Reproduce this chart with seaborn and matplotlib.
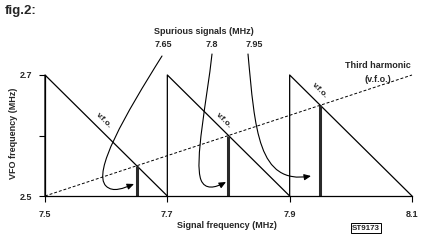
import numpy as np
import pandas as pd
import seaborn as sns
import matplotlib
matplotlib.use("Agg")
import matplotlib.pyplot as plt
from matplotlib.path import Path
from matplotlib.patches import FancyArrowPatch
import matplotlib.transforms as mtransforms

# ---- data ----
sweep_start = [7.5, 7.7, 7.9]          # signal freq where each v.f.o. sweep starts (MHz)
sweep_end = [7.7, 7.9, 8.1]            # signal freq where each sweep ends (MHz)
vfo_low, vfo_high = 2.5, 2.7           # VFO range (MHz)
harmonic_x = [7.5, 8.1]                # third harmonic line, signal freq
harmonic_y = [2.5, 2.7]                # third harmonic line, VFO freq
spurious_f = [7.65, 7.8, 7.95]         # spurious signals (MHz)
spurious_vfo = [2.55, 2.60, 2.65]      # VFO freq at spurious signal
spurious_labels = ["7.65", "7.8", "7.95"]
xticks = [7.5, 7.7, 7.9, 8.1]
xtick_labels = ["7.5", "7.7", "7.9", "8.1"]
yticks = [2.5, 2.6, 2.7]
ytick_labels = ["2.5", "", "2.7"]

sns.set_theme(style="white")
plt.rcParams["font.family"] = ["Liberation Sans", "DejaVu Sans"]

W, H = 429, 242
fig = plt.figure(figsize=(W / 100, H / 100), dpi=100)
fig.patch.set_facecolor("white")
ax = fig.add_axes([45 / W, 1 - 196 / H, (412 - 45) / W, (196 - 75) / H])
ax.set_facecolor("white")

# sawtooth v.f.o. sweeps
rows = []
for i, (s, e) in enumerate(zip(sweep_start, sweep_end)):
    rows += [(i, 0, s, vfo_low), (i, 1, s, vfo_high), (i, 2, e, vfo_low)]
saw = pd.DataFrame(rows, columns=["seg", "order", "x", "y"])
sns.lineplot(data=saw, x="x", y="y", units="seg", estimator=None, sort=False,
             color="black", lw=0.9, ax=ax, legend=False, clip_on=False)

# third harmonic
sns.lineplot(x=harmonic_x, y=harmonic_y, color="black", lw=0.7,
             linestyle=(0, (3, 2)), ax=ax, legend=False, clip_on=False)

# spurious spikes
ax.vlines(spurious_f, vfo_low, spurious_vfo, color="#2a2a2a", lw=2.2, clip_on=False)

ax.set_xlim(7.5, 8.1)
ax.set_ylim(2.5, 2.7)
ax.set_xticks(xticks)
ax.set_xticklabels(xtick_labels)
ax.set_yticks(yticks)
ax.set_yticklabels(ytick_labels)
for s in ["top", "right"]:
    ax.spines[s].set_visible(False)
for s in ["left", "bottom"]:
    ax.spines[s].set_color("black")
    ax.spines[s].set_linewidth(0.9)
ax.tick_params(axis="both", direction="out", length=4, width=0.8, color="black",
               labelsize=6.5, bottom=True, left=True)
ax.tick_params(axis="x", pad=6)
ax.tick_params(axis="y", pad=5)
for lab in ax.get_xticklabels() + ax.get_yticklabels():
    lab.set_fontweight("bold")
ax.set_xlabel("Signal frequency (MHz)", fontsize=6.5, fontweight="bold")
ax.set_ylabel("VFO frequency (MHz)", fontsize=6.5, fontweight="bold")
ax.xaxis.set_label_coords((227 - 45) / 367, -(225 - 196) / 121)
ax.yaxis.set_label_coords((14 - 45) / 367, (196 - 133) / 121)
ax.xaxis.label.set_va("center")
ax.yaxis.label.set_va("center")


def ptext(x, y, s, **kw):
    fig.text(x / W, 1 - y / H, s, **kw)


ptext(5, 11, "fig.2:", fontsize=9.5, fontweight="bold", ha="left", va="center")
ptext(204, 32, "Spurious signals (MHz)", fontsize=6.5, fontweight="bold", ha="center", va="center")
for xp, lab in zip([163, 212, 254], spurious_labels):
    ptext(xp, 45, lab, fontsize=6.5, fontweight="bold", ha="center", va="center")
ptext(378, 66, "Third harmonic", fontsize=6.5, fontweight="bold", ha="center", va="center")
ptext(378, 80, "(v.f.o.)", fontsize=6.5, fontweight="bold", ha="center", va="center")
for (xp, yp) in [(104, 121), (224, 121), (320, 91)]:
    ptext(xp, yp, "v.f.o.", fontsize=6, fontweight="bold", ha="center", va="center",
          rotation=-45, rotation_mode="anchor")
fig.text(366 / W, 1 - 228 / H, "ST9173", fontsize=5.8, fontweight="bold", ha="center", va="center",
         bbox=dict(boxstyle="square,pad=0.15", fc="white", ec="black", lw=0.7))

# curved arrows (pixel coordinates, top-left origin)
M, C = Path.MOVETO, Path.CURVE4
arrows = [
    ([(162, 56), (125, 115), (92, 172), (106, 186), (113, 193), (124, 188), (134, 184)], [M, C, C, C, C, C, C]),
    ([(212, 54), (207, 100), (194, 162), (201, 180), (205, 190), (215, 188), (226, 182)], [M, C, C, C, C, C, C]),
    ([(248, 54), (255, 130), (258, 185), (311, 176)], [M, C, C, C]),
]
disp = mtransforms.Affine2D().scale(1, -1).translate(0, H)
for verts, codes in arrows:
    p = FancyArrowPatch(path=Path(verts, codes), arrowstyle="-|>,head_length=4,head_width=1.8",
                        mutation_scale=1, lw=0.8, color="black", transform=disp)
    fig.add_artist(p)

fig.savefig("out.png", dpi=100, facecolor="white")
